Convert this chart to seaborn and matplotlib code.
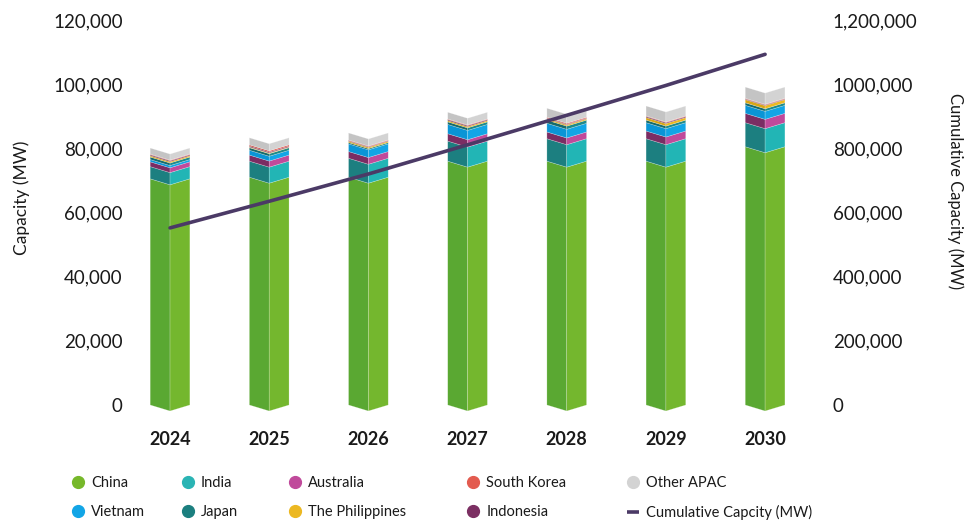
import matplotlib
matplotlib.use("Agg")
import numpy as np
import pandas as pd
import seaborn as sns
import matplotlib.pyplot as plt
from matplotlib.patches import Polygon
from matplotlib.lines import Line2D

# ---------------- data ----------------
years = ["2024", "2025", "2026", "2027", "2028", "2029", "2030"]
china = [70500, 71000, 71000, 76000, 76000, 76000, 80500]
india = [3800, 5000, 5900, 6250, 7000, 7000, 7500]
australia = [1500, 1900, 2100, 2300, 2100, 2400, 2900]
vietnam = [700, 1500, 2400, 2900, 2700, 2600, 2500]
japan = [800, 800, 400, 800, 1000, 800, 800]
philippines = [400, 200, 400, 400, 400, 800, 1000]
indonesia = [300, 300, 200, 300, 200, 300, 200]
south_korea = [200, 400, 200, 200, 300, 200, 200]
other_apac = [1900, 2200, 2200, 2100, 2800, 3100, 3500]
cumulative = [552000, 635000, 720000, 811000, 903000, 996000, 1093000]

left_ticks = [0, 20000, 40000, 60000, 80000, 100000, 120000]
left_tick_labels = ["0", "20,000", "40,000", "60,000", "80,000", "100,000", "120,000"]
right_ticks = [0, 200000, 400000, 600000, 800000, 1000000, 1200000]
right_tick_labels = ["0", "200,000", "400,000", "600,000", "800,000", "1000,000", "1,200,000"]

# stacking order (bottom -> top): name, values, right-face colour, left-face colour
series = [
    ("China", china, "#74b72e", "#5aa832"),
    ("India", india, "#22b5b5", "#1c7f80"),
    ("Australia", australia, "#c04a9b", "#7b2d63"),
    ("Vietnam", vietnam, "#12a5e6", "#0a95d6"),
    ("Japan", japan, "#1f8a8a", "#176b6b"),
    ("The Philippines", philippines, "#ecb822", "#d9a515"),
    ("Indonesia", indonesia, "#7b2f62", "#61234d"),
    ("South Korea", south_korea, "#e35b4f", "#c94a40"),
    ("Other APAC", other_apac, "#d3d3d3", "#c4c4c4"),
]
line_color = "#4b3a66"

# ---------------- style ----------------
sns.set_theme(style="white")
plt.rcParams["font.family"] = ["Lato", "DejaVu Sans"]
text_color = "#1a1a1a"

fig = plt.figure(figsize=(9.67, 5.21), dpi=100)
ax = fig.add_axes([125.4 / 967, 116 / 521, 699.2 / 967, 385 / 521])
ax.set_xlim(-0.45, 6.6)
ax.set_ylim(0, 120000)

half_w = 0.2
depth = 0.0156 * 120000  # chevron drop at the bar centre

for i in range(len(years)):
    bottom = 0.0
    for name, vals, c_right, c_left in series:
        top = bottom + vals[i]
        left_face = Polygon([(i - half_w, bottom), (i, bottom - depth), (i, top - depth), (i - half_w, top)],
                            closed=True, facecolor=c_left, edgecolor=(1, 1, 1, 0.35), linewidth=0.4,
                            clip_on=False, zorder=2)
        right_face = Polygon([(i, bottom - depth), (i + half_w, bottom), (i + half_w, top), (i, top - depth)],
                             closed=True, facecolor=c_right, edgecolor=(1, 1, 1, 0.35), linewidth=0.4,
                             clip_on=False, zorder=2)
        ax.add_patch(left_face)
        ax.add_patch(right_face)
        bottom = top

ax.set_xticks(range(len(years)))
ax.set_xticklabels(years, fontsize=13, fontweight="bold", color=text_color)
ax.set_yticks(left_ticks)
ax.set_yticklabels(left_tick_labels, fontsize=13.5, color=text_color)
ax.tick_params(axis="x", length=0, pad=19)
ax.tick_params(axis="y", length=0, pad=2)
for s in ax.spines.values():
    s.set_visible(False)
ax.grid(False)
ax.set_ylabel("Capacity (MW)", fontsize=12.5, color=text_color)
ax.yaxis.set_label_coords(-0.149, 0.538)
ax.yaxis.label.set(va="center", ha="center")

# cumulative line on secondary axis
ax2 = ax.twinx()
df_line = pd.DataFrame({"x": np.arange(len(years)), "cum": cumulative})
sns.lineplot(data=df_line, x="x", y="cum", ax=ax2, color=line_color, linewidth=2.6)
ax2.set_xlim(-0.45, 6.6)
ax2.set_ylim(0, 1200000)
ax2.set_yticks(right_ticks)
ax2.set_yticklabels(right_tick_labels, fontsize=13.5, color=text_color)
ax2.tick_params(axis="y", length=0, pad=6)
for s in ax2.spines.values():
    s.set_visible(False)
ax2.grid(False)
ax2.set_xlabel("")
ax2.set_ylabel("Cumulative Capacity (MW)", fontsize=12, color=text_color, rotation=270)
ax2.yaxis.set_label_coords(1.1875, 0.556)
ax2.yaxis.label.set(va="center", ha="center")

# ---------------- legend (5 columns placed individually) ----------------
colors = {name: c_r for name, _, c_r, _ in series}
colors["China"] = "#76b82a"
colors["India"] = "#2ab4b4"
colors["Japan"] = "#1b7f7f"

def dot(c):
    return Line2D([], [], linestyle="none", marker="o", markersize=8.5,
                  markerfacecolor=c, markeredgecolor=c)

legend_cols = [
    (78, [("China", dot(colors["China"])), ("Vietnam", dot(colors["Vietnam"]))]),
    (188, [("India", dot(colors["India"])), ("Japan", dot(colors["Japan"]))]),
    (295, [("Australia", dot(colors["Australia"])), ("The Philippines", dot(colors["The Philippines"]))]),
    (473, [("South Korea", dot(colors["South Korea"])), ("Indonesia", dot(colors["Indonesia"]))]),
    (633, [("Other APAC", dot(colors["Other APAC"])),
           ("Cumulative Capcity (MW)", Line2D([], [], linestyle="none", marker="_", markersize=9,
                                              markeredgewidth=2.6, color=line_color))]),
]
fs_leg = 10.5
handle_px = 1.0 * fs_leg * 100 / 72
for xpix, items in legend_cols:
    labels = [t for t, _ in items]
    handles = [h for _, h in items]
    leg = fig.legend(handles, labels, loc="upper left",
                     bbox_to_anchor=((xpix - handle_px / 2) / 967, 1 - 476.0 / 521),
                     frameon=False, fontsize=fs_leg, handlelength=1.0, handletextpad=0.4,
                     borderpad=0, borderaxespad=0, labelspacing=1.05)
    for t in leg.get_texts():
        t.set_color(text_color)

fig.savefig("out.png", dpi=100)
